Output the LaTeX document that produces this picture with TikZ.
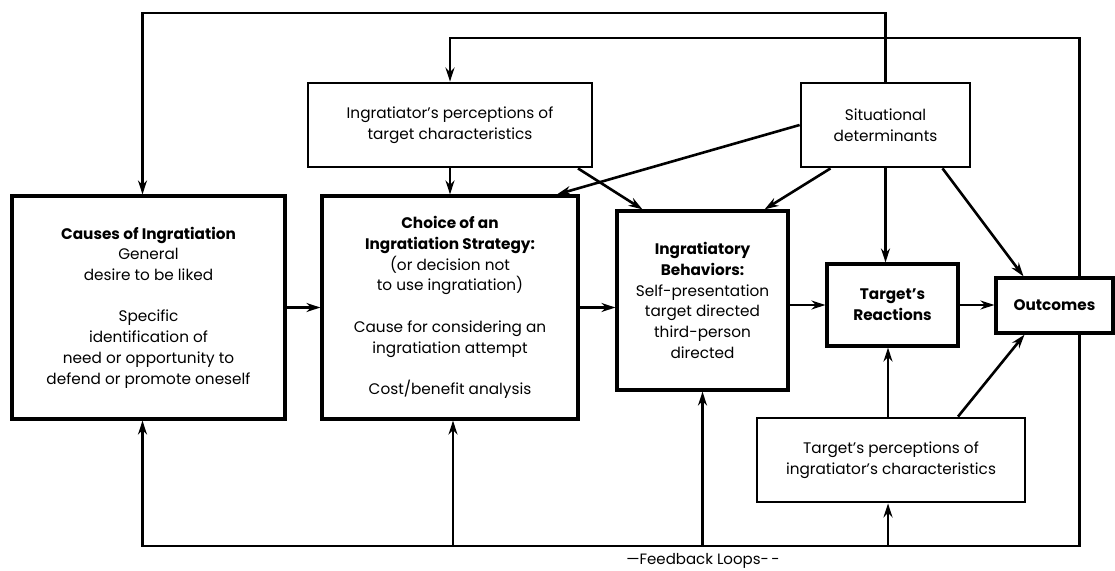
\documentclass[tikz,border=0pt]{standalone}
\usepackage{fontspec}
\setmainfont{Poppins}
\usetikzlibrary{arrows.meta}
\begin{document}
\begin{tikzpicture}[x=1pt,y=-1pt,
  box/.style={draw,line width=3.2pt,rectangle,align=center,inner sep=2pt,
    font=\fontsize{15.3}{20.7}\selectfont},
  thinbox/.style={box,line width=2.8pt},
  arr/.style={line width=2.6pt,-{Stealth[length=14pt,width=9pt]}},
  lbl/.style={font=\fontsize{15}{18}\selectfont}]
\useasboundingbox (0,0) rectangle (1115,570);

% main chain
\node[box,minimum width=273,minimum height=223] (causes) at (148.5,307.5)
  {\textbf{Causes of Ingratiation}\\General\\desire to be liked\\[20.7pt]
   Specific\\identification of\\need or opportunity to\\defend or promote oneself};
\node[box,minimum width=256,minimum height=223] (choice) at (450,307.5)
  {\textbf{Choice of an}\\\textbf{Ingratiation Strategy:}\\(or decision not\\to use ingratiation)\\[20.7pt]
   Cause for considering an\\ingratiation attempt\\[20.7pt]Cost/benefit analysis};
\node[box,minimum width=171,minimum height=179] (behav) at (702.5,300.5)
  {\textbf{Ingratiatory}\\\textbf{Behaviors:}\\Self-presentation\\target directed\\third-person\\directed};
\node[box,minimum width=131,minimum height=82] (reac) at (892.5,305)
  {\textbf{Target's}\\\textbf{Reactions}};
\node[box,minimum width=117,minimum height=55] (outc) at (1054.5,305.5)
  {\textbf{Outcomes}};

% perception and situation boxes
\node[thinbox,minimum width=284,minimum height=84] (iper) at (450,125)
  {Ingratiator's perceptions of\\target characteristics};
\node[thinbox,minimum width=169,minimum height=84] (sit) at (885.5,125)
  {Situational\\determinants};
\node[thinbox,minimum width=268,minimum height=84] (tper) at (891,460)
  {Target's perceptions of\\ingratiator's characteristics};

% forward arrows
\draw[arr] (causes.east) -- (choice.west);
\draw[arr] (choice.east) -- (choice.east -| behav.west);
\draw[arr] (behav.east |- reac.west) -- (reac.west);
\draw[arr] (reac.east) -- (reac.east -| outc.west);

\draw[arr] (iper.south) -- (choice.north);
\draw[arr] ([xshift=128]iper.south) -- ([xshift=-60]behav.north);
\draw[arr] (sit.west) -- ([xshift=107]choice.north);
\draw[arr] ([xshift=-55]sit.south) -- ([xshift=62]behav.north);
\draw[arr] (sit.south) -- (sit.south |- reac.north);
\draw[arr] ([xshift=57]sit.south) -- ([xshift=-31]outc.north);
\draw[arr] ([xshift=-3]tper.north) -- ([xshift=-3]tper.north |- reac.south);
\draw[arr] ([xshift=67]tper.north) -- ([xshift=-30]outc.south);

% feedback loops over the top
\coordinate (top1) at (0,13);
\coordinate (top2) at (0,38);
\draw[arr] (sit.north) -- (sit.north |- top1) -| ([xshift=-6]causes.north);
\draw[arr] ([xshift=25]outc.north) -- ([xshift=25]outc.north |- top2) -| (iper.north);

% feedback loops along the bottom
\coordinate (bot) at (0,546);
\draw[arr] ([xshift=25]outc.south) -- ([xshift=25]outc.south |- bot) -| ([xshift=-6]causes.south);
\draw[arr] ([xshift=3]choice.south |- bot) -- ([xshift=3]choice.south);
\draw[arr] (behav.south |- bot) -- (behav.south);
\draw[arr] ([xshift=-3]tper.south |- bot) -- ([xshift=-3]tper.south);

\node[lbl] (fbl) at (703,561) {---Feedback Loops-\,-};
\end{tikzpicture}
\end{document}
